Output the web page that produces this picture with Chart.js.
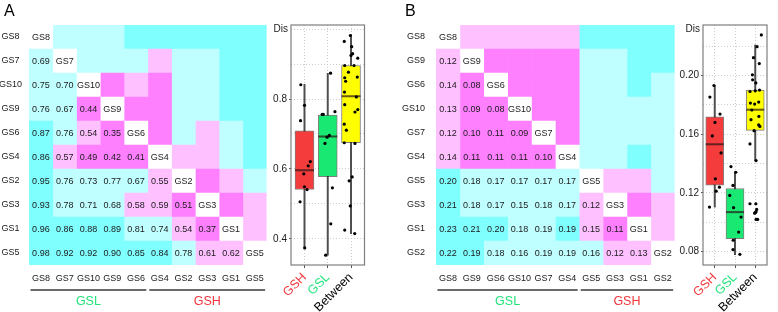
<!DOCTYPE html>
<html>
<head>
<meta charset="utf-8">
<script src="https://cdn.jsdelivr.net/npm/chart.js@4.4.1/dist/chart.umd.min.js"></script>
<style>
  body { margin: 0; background: #fff; width: 778px; height: 312px; overflow: hidden; position: relative; }
  .panel { position: absolute; top: 0; height: 312px; }
</style>
</head>
<body>
<div class="panel" style="left:0;width:272px"><canvas id="heatA"></canvas></div>
<div class="panel" style="left:266px;width:110px"><canvas id="boxA"></canvas></div>
<div class="panel" style="left:390px;width:290px"><canvas id="heatB"></canvas></div>
<div class="panel" style="left:678px;width:100px"><canvas id="boxB"></canvas></div>
<script>
// ---- heatmap data (lower triangle, row order = column order) ----
const orderA = ['GS8', 'GS7', 'GS10', 'GS9', 'GS6', 'GS4', 'GS2', 'GS3', 'GS1', 'GS5'];
const distA = [
  [],
  [0.69],
  [0.75, 0.70],
  [0.76, 0.67, 0.44],
  [0.87, 0.76, 0.54, 0.35],
  [0.86, 0.57, 0.49, 0.42, 0.41],
  [0.95, 0.76, 0.73, 0.77, 0.67, 0.55],
  [0.93, 0.78, 0.71, 0.68, 0.58, 0.59, 0.51],
  [0.96, 0.86, 0.88, 0.89, 0.81, 0.74, 0.54, 0.37],
  [0.98, 0.92, 0.92, 0.90, 0.85, 0.84, 0.78, 0.61, 0.62]
];
const breaksA = [0.52, 0.65, 0.83];
const gslCountA = 5;

const orderB = ['GS8', 'GS9', 'GS6', 'GS10', 'GS7', 'GS4', 'GS5', 'GS3', 'GS1', 'GS2'];
const distB = [
  [],
  [0.12],
  [0.14, 0.08],
  [0.13, 0.09, 0.08],
  [0.12, 0.10, 0.11, 0.09],
  [0.14, 0.11, 0.11, 0.11, 0.10],
  [0.20, 0.18, 0.17, 0.17, 0.17, 0.17],
  [0.21, 0.18, 0.17, 0.153, 0.18, 0.17, 0.12],
  [0.23, 0.21, 0.20, 0.18, 0.188, 0.193, 0.148, 0.11],
  [0.22, 0.192, 0.18, 0.16, 0.188, 0.186, 0.16, 0.12, 0.13]
];
const breaksB = [0.115, 0.15, 0.19];
const gslCountB = 6;

const cellColors = ['#ff80ff', '#ffc0ff', '#c0ffff', '#80ffff'];

// ---- box plot data ----
const groups = ['GSH', 'GSL', 'Between'];
const groupText = ['#f0363c', '#22e27a', '#000000'];
const boxFill = ['#f53c3c', '#19e872', '#ffff00'];

const lowA  = [0.374, 0.353, 0.415];
const q1A   = [0.541, 0.578, 0.675];
const medA  = [0.596, 0.693, 0.808];
const q3A   = [0.709, 0.754, 0.896];
const highA = [0.842, 0.874, 0.984];
const dotsA = [
  [0.841, 0.782, 0.738, 0.621, 0.609, 0.586, 0.549, 0.541, 0.506, 0.374],
  [0.874, 0.756, 0.756, 0.764, 0.696, 0.691, 0.673, 0.546, 0.443, 0.353],
  [0.965, 0.982, 0.950, 0.930, 0.925, 0.917, 0.896, 0.896, 0.877, 0.861, 0.863, 0.851, 0.820,
   0.806, 0.770, 0.763, 0.784, 0.728, 0.711, 0.675, 0.673, 0.577, 0.566, 0.494, 0.425, 0.415]
];
const jitterA = [
  [-0.16, 0, -0.17, 0.25, 0.16, -0.03, 0, 0.11, -0.19, 0.01],
  [0.12, -0.24, -0.19, 0.31, 0.07, -0.03, -0.12, 0.2, 0.13, -0.09],
  [-0.29, -0.03, 0.03, 0.07, 0, 0.29, 0.13, -0.27, -0.11, -0.27, 0.27, -0.23, -0.28,
   0.23, 0.29, 0.17, -0.27, -0.29, -0.2, -0.29, 0.17, 0.05, -0.08, -0.03, -0.27, 0.16]
];
const yGridA = [0.4, 0.5, 0.6, 0.7, 0.8, 0.9, 1.0];
const yTicksA = [0.4, 0.6, 0.8];

const lowB  = [0.1102, 0.0778, 0.1418];
const q1B   = [0.1252, 0.0887, 0.1626];
const medB  = [0.1531, 0.1068, 0.1767];
const q3B   = [0.1719, 0.1229, 0.1901];
const highB = [0.1932, 0.1343, 0.2209];
const dotsB = [
  [0.1853, 0.1932, 0.1737, 0.1680, 0.1588, 0.1472, 0.1295, 0.1211, 0.1238, 0.1102],
  [0.1379, 0.1250, 0.1182, 0.1098, 0.1034, 0.0932, 0.0876, 0.0812, 0.0780, 0.1340],
  [0.2277, 0.2197, 0.2122, 0.2082, 0.2005, 0.1971, 0.1950, 0.1891, 0.1901, 0.1896, 0.1812,
   0.1805, 0.1819, 0.1765, 0.1699, 0.1721, 0.1663, 0.1653, 0.1624, 0.1533, 0.1420, 0.1125,
   0.1125, 0.1064, 0.1071, 0.1086, 0.1018, 0.1018, 0.1061]
];
const jitterB = [
  [-0.24, -0.04, 0.26, 0.01, -0.12, 0.31, 0.03, 0.07, 0.23, -0.26],
  [-0.2, -0.1, -0.26, -0.07, 0.3, 0.18, -0.09, -0.1, 0.24, 0.04],
  [0.3, 0.09, -0.09, 0.2, -0.14, -0.13, 0.03, -0.26, 0.21, 0, -0.24, -0.03, 0.17, -0.17,
   -0.21, 0.18, 0.17, 0.23, -0.06, -0.26, 0.04, -0.26, 0.03, 0, 0.04, 0.07, 0.04, 0.12, -0.03]
];
const yGridB = [0.08, 0.10, 0.12, 0.14, 0.16, 0.18, 0.20, 0.22];
const yTicksB = [0.08, 0.12, 0.16, 0.20];

const FONT = '"Liberation Sans", Arial, Helvetica, sans-serif';
Chart.defaults.font.family = FONT;
Chart.defaults.animation = false;
Chart.defaults.events = [];
Chart.defaults.plugins.legend.display = false;
Chart.defaults.plugins.tooltip.enabled = false;

function heatmap(id, order, dist, breaks, gslCount, letter, letterX, yWidth, yPad, yAlign, padRight) {
  const n = order.length;
  const val = (i, j) => i > j ? dist[i][j] : (j > i ? dist[j][i] : null);
  const colorOf = v => v === null ? '#ffffff' : cellColors[breaks.filter(b => v >= b).length];

  const datasets = order.map((col, j) => ({
    label: col,
    data: order.map(() => 1),
    backgroundColor: order.map((row, i) => colorOf(val(i, j))),
    borderWidth: 0,
    barPercentage: 1,
    categoryPercentage: 1
  }));

  const textPlugin = {
    id: 'cellText',
    afterDatasetsDraw(chart) {
      const { ctx, chartArea, scales: { x, y } } = chart;
      ctx.save();
      ctx.font = '9px ' + FONT;
      ctx.fillStyle = '#1a1a1a';
      ctx.textAlign = 'center';
      ctx.textBaseline = 'middle';
      order.forEach((row, i) => {
        for (let j = 0; j <= i; j++) {
          const txt = i === j ? row : dist[i][j].toFixed(2);
          ctx.fillText(txt, x.getPixelForValue(j + 0.5), y.getPixelForValue(i) + 0.5);
        }
      });
      // group brackets under the column labels
      const brackets = [['GSL', 0, gslCount, groupText[1]], ['GSH', gslCount, n, groupText[0]]];
      brackets.forEach(([name, a, b, color]) => {
        const x0 = x.getPixelForValue(a) + 1.5, x1 = x.getPixelForValue(b) - 1.5;
        ctx.strokeStyle = '#6a6a6a';
        ctx.lineWidth = 1.8;
        ctx.beginPath();
        ctx.moveTo(x0, chartArea.bottom + 25);
        ctx.lineTo(x1, chartArea.bottom + 25);
        ctx.stroke();
        ctx.font = '12.5px ' + FONT;
        ctx.fillStyle = color;
        ctx.fillText(name, (x0 + x1) / 2, chartArea.bottom + 37);
      });
      // panel letter
      ctx.font = '16px ' + FONT;
      ctx.fillStyle = '#000';
      ctx.textAlign = 'left';
      ctx.textBaseline = 'alphabetic';
      ctx.fillText(letter, letterX, 16);
      ctx.restore();
    }
  };

  new Chart(document.getElementById(id), {
    type: 'bar',
    data: { labels: order, datasets },
    options: {
      indexAxis: 'y',
      responsive: true,
      maintainAspectRatio: false,
      layout: { padding: { top: 25, right: padRight, left: 0, bottom: 0 } },
      scales: {
        x: { stacked: true, display: false, min: 0, max: n },
        y: {
          stacked: true,
          grid: { display: false, drawTicks: false },
          border: { display: false },
          ticks: { padding: yPad, crossAlign: yAlign, font: { size: 9 }, color: '#1a1a1a' },
          afterFit: s => { s.width = yWidth; }
        },
        cols: {
          type: 'category',
          labels: order,
          offset: true,
          position: 'bottom',
          grid: { display: false, drawTicks: false },
          border: { display: false },
          ticks: { padding: 8, font: { size: 9 }, color: '#1a1a1a', autoSkip: false, maxRotation: 0 },
          afterFit: s => { s.height = 47; }
        }
      }
    },
    plugins: [textPlugin]
  });
}

function boxplot(id, low, q1, med, q3, high, dots, jitter, yMin, yMax, yGrid, yTicks, decimals, boxW, yWidth, padRight) {
  const isLabeled = v => yTicks.includes(v);
  const framePlugin = {
    id: 'frame',
    afterDatasetsDraw(chart) {
      const { ctx, chartArea: a } = chart;
      ctx.save();
      ctx.strokeStyle = '#7f7f7f';
      ctx.lineWidth = 1.2;
      ctx.strokeRect(a.left, a.top, a.right - a.left, a.bottom - a.top);
      ctx.font = '10px ' + FONT;
      ctx.fillStyle = '#1a1a1a';
      ctx.textAlign = 'right';
      ctx.textBaseline = 'middle';
      ctx.fillText('Dis', a.left - 3, a.top + 4.5);
      ctx.restore();
    }
  };

  const points = [];
  dots.forEach((arr, k) => arr.forEach((v, m) => points.push({ x: k + jitter[k][m], y: v })));

  new Chart(document.getElementById(id), {
    type: 'bar',
    data: {
      datasets: [
        {
          type: 'scatter', data: points, order: 1,
          pointRadius: 1.6, pointBackgroundColor: '#000', pointBorderWidth: 0
        },
        {
          type: 'scatter', data: groups.map((g, k) => ({ x: k, y: med[k] })), order: 2,
          pointStyle: 'line', pointRadius: boxW / 2, pointBorderWidth: 2,
          pointBorderColor: 'rgba(40,20,20,0.7)'
        },
        {
          data: groups.map((g, k) => ({ x: k, y: [q1[k], q3[k]] })), order: 3,
          backgroundColor: boxFill, borderColor: 'rgba(50,40,40,0.6)', borderWidth: 1,
          borderSkipped: false, barThickness: boxW, grouped: false
        },
        {
          data: groups.map((g, k) => ({ x: k, y: [low[k], high[k]] })), order: 4,
          backgroundColor: '#4d4d4d', borderWidth: 0, barThickness: 1.3, grouped: false
        }
      ]
    },
    options: {
      responsive: true,
      maintainAspectRatio: false,
      layout: { padding: { top: 25, right: padRight, left: 0, bottom: 0 } },
      scales: {
        x: {
          type: 'linear', min: -0.58, max: 2.58, offset: false,
          afterBuildTicks: s => { s.ticks = groups.map((g, k) => ({ value: k })); },
          grid: { offset: false, color: '#cccccc', drawTicks: true, tickLength: 3, tickColor: '#555', tickBorderDash: [] },
          border: { display: false, dash: [1, 2] },
          ticks: {
            autoSkip: false, minRotation: 45, maxRotation: 45, padding: 2,
            font: { size: 12.5 },
            color: c => groupText[c.index],
            callback: v => groups[v]
          },
          afterFit: s => { s.height = 47; }
        },
        y: {
          type: 'linear', min: yMin, max: yMax,
          afterBuildTicks: s => { s.ticks = yGrid.map(v => ({ value: v })); },
          grid: {
            color: '#cccccc', drawTicks: true, tickLength: 2, tickBorderDash: [],
            tickColor: c => (c.tick && isLabeled(c.tick.value)) ? '#555' : 'rgba(0,0,0,0)'
          },
          border: { display: false, dash: [1, 2] },
          ticks: {
            padding: 2, font: { size: 10 }, color: '#1a1a1a', autoSkip: false,
            callback: v => isLabeled(v) ? v.toFixed(decimals) : ''
          },
          afterFit: s => { s.width = yWidth; }
        }
      }
    },
    plugins: [framePlugin]
  });
}

heatmap('heatA', orderA, distA, breaksA, gslCountA, 'A', 4, 29, 7, 'center', 5);
heatmap('heatB', orderB, distB, breaksB, gslCountB, 'B', 15, 46, 11, 'near', 4);
boxplot('boxA', lowA, q1A, medA, q3A, highA, dotsA, jitterA, 0.325, 1.012, yGridA, yTicksA, 1, 19, 25, 6);
boxplot('boxB', lowB, q1B, medB, q3B, highB, dotsB, jitterB, 0.0707, 0.2345, yGridB, yTicksB, 2, 18, 25, 1);
</script>
</body>
</html>
